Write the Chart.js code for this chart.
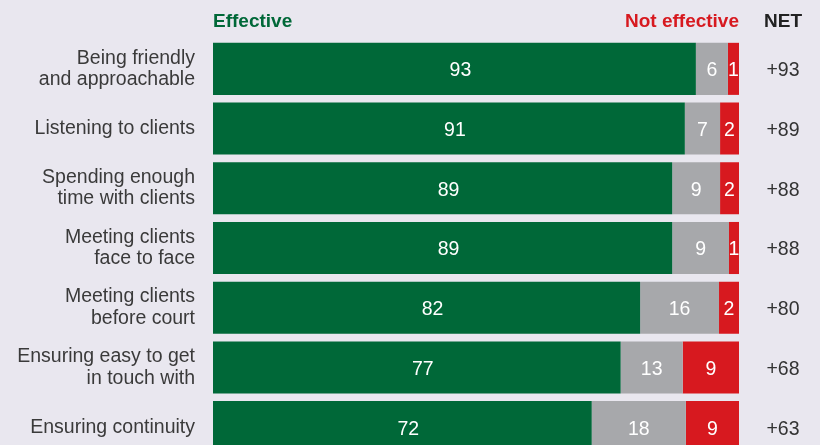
<!DOCTYPE html>
<html>
<head>
<meta charset="utf-8">
<script src="https://cdn.jsdelivr.net/npm/chart.js@4.4.0/dist/chart.umd.min.js"></script>
<style>
  html, body { margin: 0; padding: 0; background: #e9e7ef; overflow: hidden; }
  canvas { display: block; }
</style>
</head>
<body>
<canvas id="ratingsChart" width="820" height="457"></canvas>
<script>
const categories = [
    ['Being friendly', 'and approachable'],
    'Listening to clients',
    ['Spending enough', 'time with clients'],
    ['Meeting clients', 'face to face'],
    ['Meeting clients', 'before court'],
    ['Ensuring easy to get', 'in touch with'],
    'Ensuring continuity'
];

// Segment lengths as drawn in the picture (share of each bar, %)
const effective = [91.8, 89.7, 87.3, 87.3, 81.2, 77.5, 72.0];
const neutral = [6.1, 6.7, 9.1, 10.8, 15.0, 11.8, 17.9];
const notEffective = [2.1, 3.6, 3.6, 1.9, 3.8, 10.7, 10.1];

// Numbers printed on the bars and in the NET column
const effectiveLabels = [93, 91, 89, 89, 82, 77, 72];
const neutralLabels = [6, 7, 9, 9, 16, 13, 18];
const notEffectiveLabels = [1, 2, 2, 1, 2, 9, 9];
const netScores = ['+93', '+89', '+88', '+88', '+80', '+68', '+63'];

const FONT = "'Liberation Sans', Arial, Helvetica, sans-serif";
const GREEN = '#006838';
const GREY = '#a7a8ab';
const RED = '#d7191f';

// Draws bar numbers, NET column and the header row
const textPlugin = {
    id: 'barText',
    afterDatasetsDraw(chart) {
        const ctx = chart.ctx;
        const area = chart.chartArea;
        const printed = [effectiveLabels, neutralLabels, notEffectiveLabels];
        ctx.save();
        ctx.font = '19.5px ' + FONT;
        ctx.textAlign = 'center';
        ctx.textBaseline = 'middle';
        ctx.fillStyle = '#ffffff';
        chart.data.datasets.forEach((ds, i) => {
            chart.getDatasetMeta(i).data.forEach((bar, j) => {
                const shift = i === 0 ? 6 : 0;
                ctx.fillText(printed[i][j], (bar.x + bar.base) / 2 + shift, bar.y + 2);
            });
        });

        const netX = 783;
        ctx.fillStyle = '#333333';
        netScores.forEach((v, j) => {
            ctx.fillText(v, netX, chart.scales.y.getPixelForValue(j) + 2);
        });

        ctx.font = 'bold 19px ' + FONT;
        ctx.textBaseline = 'alphabetic';
        ctx.textAlign = 'left';
        ctx.fillStyle = GREEN;
        ctx.fillText('Effective', area.left, 27);
        ctx.textAlign = 'right';
        ctx.fillStyle = RED;
        ctx.fillText('Not effective', area.right, 27);
        ctx.textAlign = 'center';
        ctx.fillStyle = '#222222';
        ctx.fillText('NET', netX, 27);
        ctx.restore();
    }
};

const ctx = document.getElementById('ratingsChart').getContext('2d');
const ratingsChart = new Chart(ctx, {
    type: 'bar',
    data: {
        labels: categories,
        datasets: [
            { label: 'Effective', data: effective, backgroundColor: GREEN },
            { label: 'Neither', data: neutral, backgroundColor: GREY },
            { label: 'Not effective', data: notEffective, backgroundColor: RED }
        ]
    },
    options: {
        indexAxis: 'y',
        responsive: false,
        animation: false,
        datasets: {
            bar: { barPercentage: 0.872, categoryPercentage: 1, borderWidth: 0 }
        },
        layout: { padding: { top: 39, right: 81, bottom: 0, left: 0 } },
        scales: {
            x: { stacked: true, min: 0, max: 100, display: false },
            y: {
                stacked: true,
                grid: { display: false, drawTicks: false },
                border: { display: false },
                ticks: {
                    padding: 18,
                    color: '#3a3a3a',
                    font: { family: FONT, size: 19.5, lineHeight: 1.1 }
                },
                afterFit(scale) {
                    scale.width = 213;
                    scale.paddingTop = 0;
                    scale.paddingBottom = 0;
                }
            }
        },
        plugins: {
            legend: { display: false },
            tooltip: { enabled: false }
        }
    },
    plugins: [textPlugin]
});
</script>
</body>
</html>
